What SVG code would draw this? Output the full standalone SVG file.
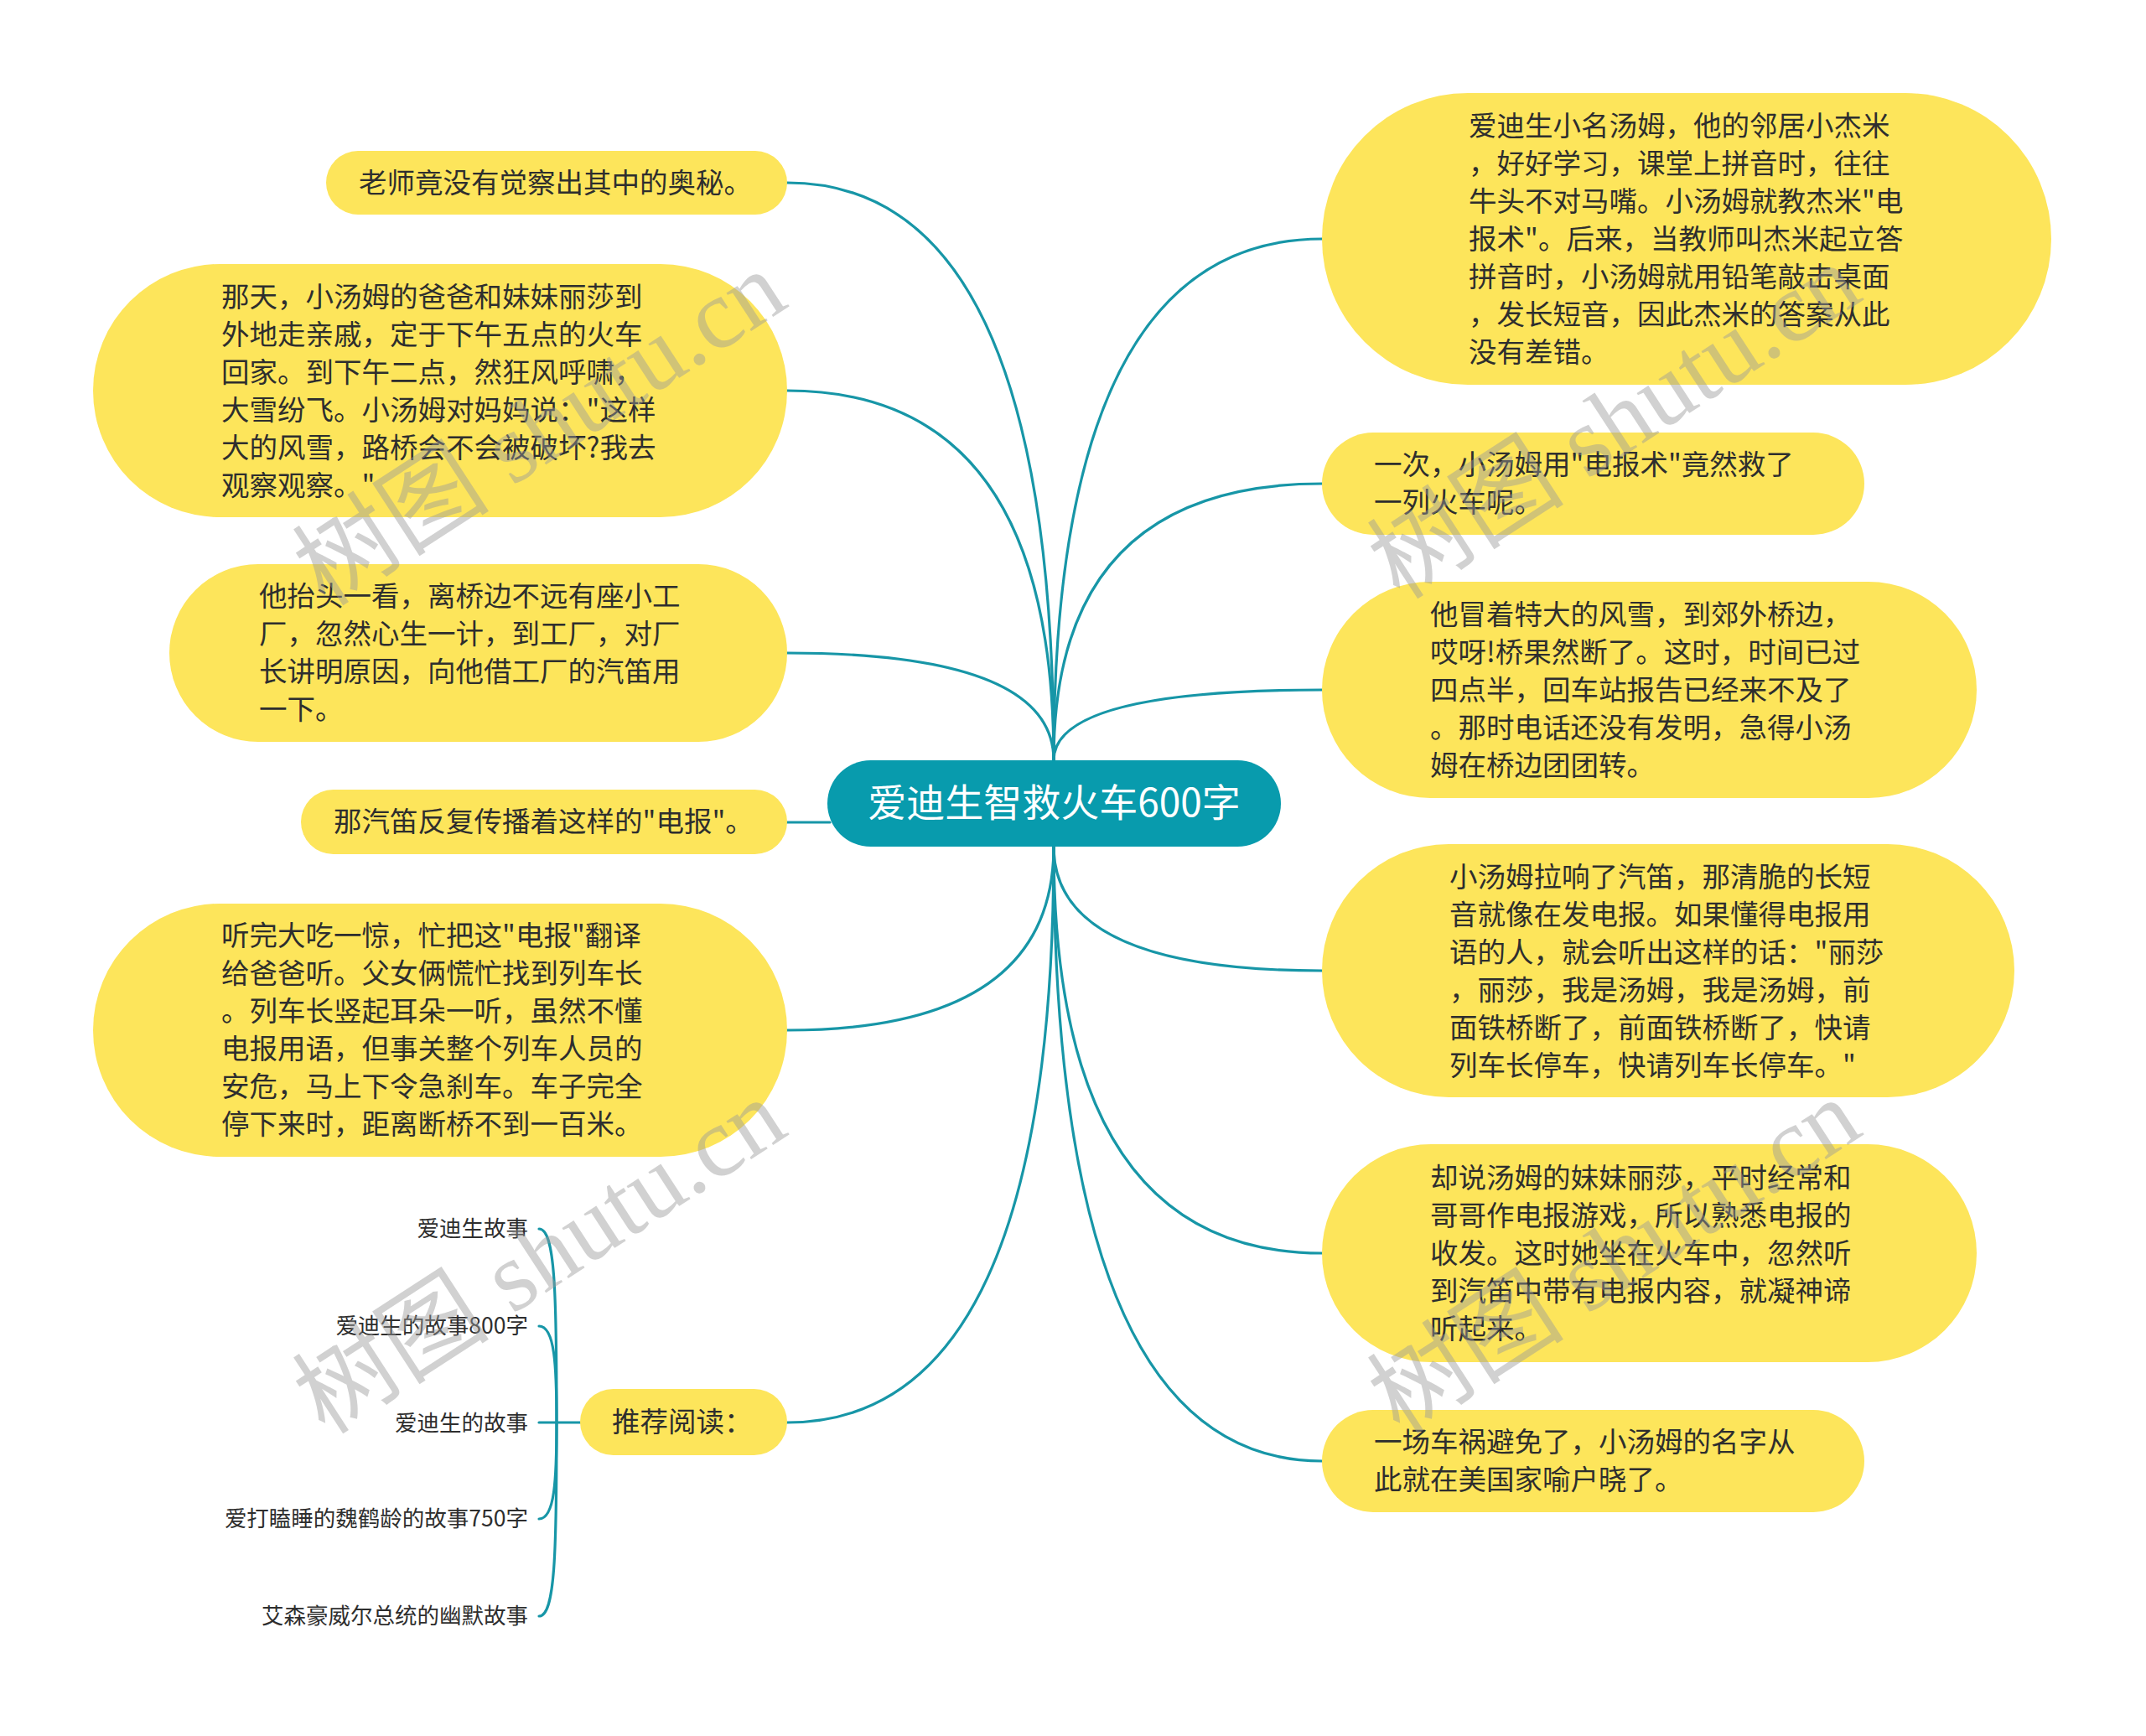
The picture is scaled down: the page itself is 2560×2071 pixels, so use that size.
<svg xmlns="http://www.w3.org/2000/svg" width="2560" height="2071" viewBox="0 0 2560 2071">
<style>
.bg{fill:#ffffff}
.topic{fill:#FDE55B}
.root{fill:#089BAD}
.t{font-family:"Noto Sans CJK SC","Liberation Sans",sans-serif;font-size:33.5px;fill:#2e2e2e}
.rt{font-family:"Noto Sans CJK SC","Liberation Sans",sans-serif;font-size:46px;fill:#ffffff}
.s{font-family:"Noto Sans CJK SC","Liberation Sans",sans-serif;font-size:26.5px;fill:#2e2e2e}
.c{fill:none;stroke:#1796A7;stroke-width:3.2;stroke-linecap:round}
.wm{font-family:"Liberation Serif","Noto Sans CJK SC",serif;font-size:118px;fill:#9a9a9a;opacity:0.45}
</style>
<rect class="bg" x="0" y="0" width="2560" height="2071"/>
<g id="connectors">
<path class="c" d="M939 218 Q1257 218 1257 907"/>
<path class="c" d="M939 466 Q1257 466 1257 907"/>
<path class="c" d="M939 779 Q1257 779 1257 907"/>
<path class="c" d="M939 981 L990 981"/>
<path class="c" d="M939 1229 Q1257 1229 1257 1010"/>
<path class="c" d="M939 1697 Q1257 1697 1257 1010"/>
<path class="c" d="M1257 907 Q1257 285 1577 285"/>
<path class="c" d="M1257 907 Q1257 577 1577 577"/>
<path class="c" d="M1257 907 Q1257 823 1577 823"/>
<path class="c" d="M1257 1010 Q1257 1158 1577 1158"/>
<path class="c" d="M1257 1010 Q1257 1495 1577 1495"/>
<path class="c" d="M1257 1010 Q1257 1743 1577 1743"/>
<path class="c" d="M692 1697 L643 1697"/>
<path class="c" d="M664 1697 C664 1540 662 1466 643 1466"/>
<path class="c" d="M664 1697 C664 1630 662 1582 643 1582"/>
<path class="c" d="M664 1697 C664 1764 662 1812 643 1812"/>
<path class="c" d="M664 1697 C664 1854 662 1928 643 1928"/>
</g>
<g id="root">
<rect class="root" x="987" y="907" width="541" height="103" rx="51.5"/>
<text class="rt" x="1257.5" y="974" text-anchor="middle">爱迪生智救火车600字</text>
</g>
<g id="L1">
<rect class="topic" x="389" y="180" width="550" height="76" rx="38"/>
<text class="t" x="428" y="230">老师竟没有觉察出其中的奥秘。</text>
</g>
<g id="L2">
<rect class="topic" x="111" y="315" width="828" height="302" rx="151"/>
<text class="t" x="264" y="366"><tspan x="264">那天，小汤姆的爸爸和妹妹丽莎到</tspan><tspan x="264" dy="45">外地走亲戚，定于下午五点的火车</tspan><tspan x="264" dy="45">回家。到下午二点，然狂风呼啸，</tspan><tspan x="264" dy="45">大雪纷飞。小汤姆对妈妈说："这样</tspan><tspan x="264" dy="45">大的风雪，路桥会不会被破坏?我去</tspan><tspan x="264" dy="45">观察观察。"</tspan></text>
</g>
<g id="L3">
<rect class="topic" x="202" y="673" width="737" height="212" rx="106"/>
<text class="t" x="309" y="723"><tspan x="309">他抬头一看，离桥边不远有座小工</tspan><tspan x="309" dy="45">厂，忽然心生一计，到工厂，对厂</tspan><tspan x="309" dy="45">长讲明原因，向他借工厂的汽笛用</tspan><tspan x="309" dy="45">一下。</tspan></text>
</g>
<g id="L4">
<rect class="topic" x="359" y="942" width="580" height="77" rx="38.5"/>
<text class="t" x="398" y="992">那汽笛反复传播着这样的"电报"。</text>
</g>
<g id="L5">
<rect class="topic" x="111" y="1078" width="828" height="302" rx="151"/>
<text class="t" x="264" y="1128"><tspan x="264">听完大吃一惊，忙把这"电报"翻译</tspan><tspan x="264" dy="45">给爸爸听。父女俩慌忙找到列车长</tspan><tspan x="264" dy="45">。列车长竖起耳朵一听，虽然不懂</tspan><tspan x="264" dy="45">电报用语，但事关整个列车人员的</tspan><tspan x="264" dy="45">安危，马上下令急刹车。车子完全</tspan><tspan x="264" dy="45">停下来时，距离断桥不到一百米。</tspan></text>
</g>
<g id="L6">
<rect class="topic" x="692" y="1657" width="247" height="79" rx="39.5"/>
<text class="t" x="730" y="1708">推荐阅读：</text>
</g>
<g id="S1"><text class="s" x="630" y="1475" text-anchor="end">爱迪生故事</text></g>
<g id="S2"><text class="s" x="630" y="1591" text-anchor="end">爱迪生的故事800字</text></g>
<g id="S3"><text class="s" x="630" y="1707" text-anchor="end">爱迪生的故事</text></g>
<g id="S4"><text class="s" x="630" y="1821" text-anchor="end">爱打瞌睡的魏鹤龄的故事750字</text></g>
<g id="S5"><text class="s" x="630" y="1937" text-anchor="end">艾森豪威尔总统的幽默故事</text></g>
<g id="R1">
<rect class="topic" x="1577" y="111" width="870" height="348" rx="174"/>
<text class="t" x="1752" y="162"><tspan x="1752">爱迪生小名汤姆，他的邻居小杰米</tspan><tspan x="1752" dy="45">，好好学习，课堂上拼音时，往往</tspan><tspan x="1752" dy="45">牛头不对马嘴。小汤姆就教杰米"电</tspan><tspan x="1752" dy="45">报术"。后来，当教师叫杰米起立答</tspan><tspan x="1752" dy="45">拼音时，小汤姆就用铅笔敲击桌面</tspan><tspan x="1752" dy="45">，发长短音，因此杰米的答案从此</tspan><tspan x="1752" dy="45">没有差错。</tspan></text>
</g>
<g id="R2">
<rect class="topic" x="1577" y="516" width="647" height="122" rx="61"/>
<text class="t" x="1639" y="566"><tspan x="1639">一次，小汤姆用"电报术"竟然救了</tspan><tspan x="1639" dy="45">一列火车呢。</tspan></text>
</g>
<g id="R3">
<rect class="topic" x="1577" y="694" width="781" height="258" rx="129"/>
<text class="t" x="1706" y="745"><tspan x="1706">他冒着特大的风雪，到郊外桥边，</tspan><tspan x="1706" dy="45">哎呀!桥果然断了。这时，时间已过</tspan><tspan x="1706" dy="45">四点半，回车站报告已经来不及了</tspan><tspan x="1706" dy="45">。那时电话还没有发明，急得小汤</tspan><tspan x="1706" dy="45">姆在桥边团团转。</tspan></text>
</g>
<g id="R4">
<rect class="topic" x="1577" y="1007" width="826" height="302" rx="151"/>
<text class="t" x="1729" y="1058"><tspan x="1729">小汤姆拉响了汽笛，那清脆的长短</tspan><tspan x="1729" dy="45">音就像在发电报。如果懂得电报用</tspan><tspan x="1729" dy="45">语的人，就会听出这样的话："丽莎</tspan><tspan x="1729" dy="45">，丽莎，我是汤姆，我是汤姆，前</tspan><tspan x="1729" dy="45">面铁桥断了，前面铁桥断了，快请</tspan><tspan x="1729" dy="45">列车长停车，快请列车长停车。"</tspan></text>
</g>
<g id="R5">
<rect class="topic" x="1577" y="1365" width="781" height="260" rx="130"/>
<text class="t" x="1706" y="1417"><tspan x="1706">却说汤姆的妹妹丽莎，平时经常和</tspan><tspan x="1706" dy="45">哥哥作电报游戏，所以熟悉电报的</tspan><tspan x="1706" dy="45">收发。这时她坐在火车中，忽然听</tspan><tspan x="1706" dy="45">到汽笛中带有电报内容，就凝神谛</tspan><tspan x="1706" dy="45">听起来。</tspan></text>
</g>
<g id="R6">
<rect class="topic" x="1577" y="1682" width="647" height="122" rx="61"/>
<text class="t" x="1639" y="1732"><tspan x="1639">一场车祸避免了，小汤姆的名字从</tspan><tspan x="1639" dy="45">此就在美国家喻户晓了。</tspan></text>
</g>
<g id="watermarks">
<text class="wm" transform="translate(388 725) rotate(-33)">树图 shutu.cn</text>
<text class="wm" transform="translate(388 1713) rotate(-33)">树图 shutu.cn</text>
<text class="wm" transform="translate(1670 717) rotate(-33)">树图 shutu.cn</text>
<text class="wm" transform="translate(1670 1713) rotate(-33)">树图 shutu.cn</text>
</g>
</svg>
